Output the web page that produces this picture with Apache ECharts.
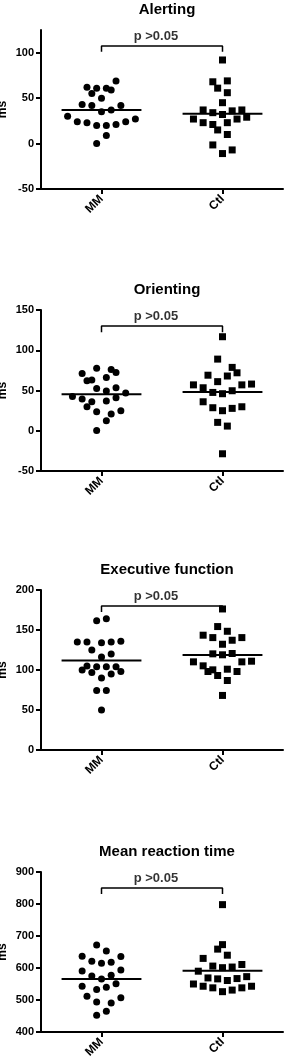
<!DOCTYPE html>
<html><head><meta charset="utf-8">
<script src="https://cdn.jsdelivr.net/npm/echarts@6/dist/echarts.min.js"></script>
<style>html,body{margin:0;padding:0;background:#fff}#c{width:284px;height:1060px}</style>
</head><body><div id="c"></div>
<script>
// ---- data ----
const categories = ['MM', 'Ctl'];
const panelTitles = ['Alerting', 'Orienting', 'Executive function', 'Mean reaction time'];
const yAxisName = 'ms';
const pLabel = 'p >0.05';
const yMin = [-50, -50, 0, 400];
const yMax = [125, 150, 200, 900];
const yStep = [50, 50, 50, 100];
const bracketTop = [107.5, 130, 180, 850];
const bracketEnd = [101, 122.5, 172.5, 831];

const alertingMM = [69, 62, 61, 61, 59, 55, 50, 43, 42, 42, 35, 37, 30, 24, 23, 20, 20, 21, 24, 27, 9, 0];
const alertingMMJitter = [3, -3, -1, 1, 2, -2, 0, -4, -2, 4, 0, 2, -7, -5, -3, -1, 1, 3, 5, 7, 1, -1];
const alertingCtl = [92, 68, 69, 61, 56, 45, 37, 34, 32, 36, 37, 27, 23, 21, 15, 23, 27, 29, 10, -1.5, -7, -11];
const alertingCtlJitter = [0, -2, 1, -1, 1, 0, -4, -2, 0, 2, 4, -6, -4, -2, -1, 1, 3, 5, 1, -2, 2, 0];

const orientingMM = [77.5, 71, 76, 72.5, 62, 63, 66, 52.6, 53.4, 49.3, 46.8, 42.7, 39.4, 36, 36.9, 41, 29.8, 23.6, 24.9, 20.7, 12.4, 0.4];
const orientingMMJitter = [-1, -4, 2, 3, -3, -2, 1, -1, 3, 1, 5, -6, -4, -2, 1, 3, -3, -1, 4, 2, 1, -1];
const orientingCtl = [116.8, 89, 78.7, 72, 69, 68, 61, 57, 53.4, 58, 57, 47.6, 46, 49.7, 36, 28.6, 24.9, 27.8, 29.8, 10.4, 5.8, -28.6];
const orientingCtlJitter = [0, -1, 2, 3, -3, 1, -1, -6, -4, 6, 4, -2, 0, 2, -4, -2, 0, 2, 4, -1, 1, 0];

const executiveMM = [161.7, 164.2, 135, 135, 134, 135, 136, 125, 120, 116.4, 105, 104, 104, 104, 100, 97, 95, 98, 90, 74.4, 74.4, 50];
const executiveMMJitter = [-1, 1, -5, -3, 0, 2, 4, -2, 2, 0, -3, -1, 1, 3, -4, -2, 2, 4, 0, -1, 1, 0];
const executiveCtl = [176.3, 154.3, 148.4, 143.5, 140.5, 140.5, 137.2, 132.2, 120.2, 119, 120.6, 110.2, 105.2, 110.2, 111, 100.2, 101, 98.1, 98.1, 93.1, 86.9, 68.2];
const executiveCtlJitter = [0, -1, 1, -4, -2, 4, 2, 0, -2, 0, 2, -6, -4, 4, 6, -2, 1, -3, 3, -1, 1, 0];

const reactionMM = [672, 653, 637, 636, 621, 615, 618, 591, 594, 575, 566, 577, 551, 543, 533, 540, 512, 507, 494, 491, 452, 465];
const reactionMMJitter = [-1, 1, -4, 4, -2, 0, 2, -4, 4, -2, 0, 2, 3, -4, -1, 1, -3, 4, -1, 2, -1, 1];
const reactionCtl = [798, 673, 659, 640, 630, 590, 606, 601, 603, 611, 569, 566, 561, 567, 573, 550, 543, 538, 526, 531, 538, 543];
const reactionCtlJitter = [0, 0, -1, 1, -4, -5, -2, 0, 2, 4, -3, -1, 1, 3, 5, -6, -4, -2, 0, 2, 4, 6];

// ---- layout / style ----
const panels = [
  { mm: alertingMM, mmJ: alertingMMJitter, ctl: alertingCtl, ctlJ: alertingCtlJitter, top: 30, height: 159 },
  { mm: orientingMM, mmJ: orientingMMJitter, ctl: orientingCtl, ctlJ: orientingCtlJitter, top: 310, height: 161 },
  { mm: executiveMM, mmJ: executiveMMJitter, ctl: executiveCtl, ctlJ: executiveCtlJitter, top: 590, height: 160 },
  { mm: reactionMM, mmJ: reactionMMJitter, ctl: reactionCtl, ctlJ: reactionCtlJitter, top: 872, height: 160 }
];
const FONT = '"Liberation Sans", Arial, Helvetica, sans-serif';
const JSTEP = 0.04;
const HALF = 0.33;
const mean = a => a.reduce((s, v) => s + v, 0) / a.length;

const grid = [], xAxis = [], yAxis = [], series = [], title = [];
panels.forEach((p, i) => {
  const ticks = [];
  for (let v = yMin[i]; v <= yMax[i] + 1e-9; v += yStep[i]) ticks.push(v);
  grid.push({ left: 41, width: 242, top: p.top, height: p.height, containLabel: false, outerBoundsMode: 'none' });
  title.push({
    text: panelTitles[i], left: 162, top: p.top - 33, textAlign: 'center',
    textStyle: { fontFamily: FONT, fontWeight: 'bold', fontSize: 15, color: '#000' }
  });
  xAxis.push({
    type: 'value', gridIndex: i, min: 0.5, max: 2.5,
    axisLine: { show: true, onZero: false, lineStyle: { color: '#000', width: 2 } },
    axisTick: { show: true, customValues: [1, 2], length: 5, lineStyle: { color: '#000', width: 2 } },
    axisLabel: {
      customValues: [1, 2], rotate: 45, margin: 8,
      formatter: v => categories[Math.round(v) - 1] || '',
      fontFamily: FONT, fontWeight: 'bold', fontSize: 12, color: '#000'
    },
    splitLine: { show: false }
  });
  yAxis.push({
    type: 'value', gridIndex: i, min: yMin[i], max: yMax[i], interval: yStep[i],
    name: yAxisName, nameLocation: 'middle', nameGap: 32, nameRotate: 90, nameMoveOverlap: false,
    nameTextStyle: { fontFamily: FONT, fontWeight: 'bold', fontSize: 12, color: '#000' },
    axisLine: { show: true, onZero: false, lineStyle: { color: '#000', width: 2 } },
    axisTick: { show: true, customValues: ticks, length: 5, lineStyle: { color: '#000', width: 2 } },
    axisLabel: { customValues: ticks, margin: 7, fontFamily: FONT, fontWeight: 'bold', fontSize: 11, color: '#000' },
    splitLine: { show: false }
  });
  const mmPts = p.mm.map((v, k) => [1 + p.mmJ[k] * JSTEP, v]);
  const ctlPts = p.ctl.map((v, k) => [2 + p.ctlJ[k] * JSTEP, v]);
  series.push({
    type: 'scatter', xAxisIndex: i, yAxisIndex: i, data: mmPts,
    symbol: 'circle', symbolSize: 7, itemStyle: { color: '#000', opacity: 1 }, silent: true
  });
  series.push({
    type: 'scatter', xAxisIndex: i, yAxisIndex: i, data: ctlPts,
    symbol: 'rect', symbolSize: 7, itemStyle: { color: '#000', opacity: 1 }, silent: true
  });
  const mM = mean(p.mm), mC = mean(p.ctl);
  [[1, mM], [2, mC]].forEach(([c, m]) => {
    series.push({
      type: 'line', xAxisIndex: i, yAxisIndex: i, data: [[c - HALF, m], [c + HALF, m]],
      symbol: 'none', lineStyle: { color: '#000', width: 2 }, silent: true, z: 3
    });
  });
  series.push({
    type: 'line', xAxisIndex: i, yAxisIndex: i,
    data: [[1, bracketEnd[i]], [1, bracketTop[i]], [2, bracketTop[i]], [2, bracketEnd[i]]],
    symbol: 'none', lineStyle: { color: '#000', width: 1.5 }, silent: true
  });
  series.push({
    type: 'scatter', xAxisIndex: i, yAxisIndex: i, data: [[1.45, bracketTop[i]]],
    symbolSize: 0, silent: true,
    label: {
      show: true, position: 'top', distance: 3, formatter: pLabel,
      fontFamily: FONT, fontWeight: 'bold', fontSize: 13, color: '#000'
    }
  });
});

const chart = echarts.init(document.getElementById('c'), null, { renderer: 'canvas' });
chart.setOption({ backgroundColor: '#fff', animation: false, title, grid, xAxis, yAxis, series });
</script>
</body></html>
